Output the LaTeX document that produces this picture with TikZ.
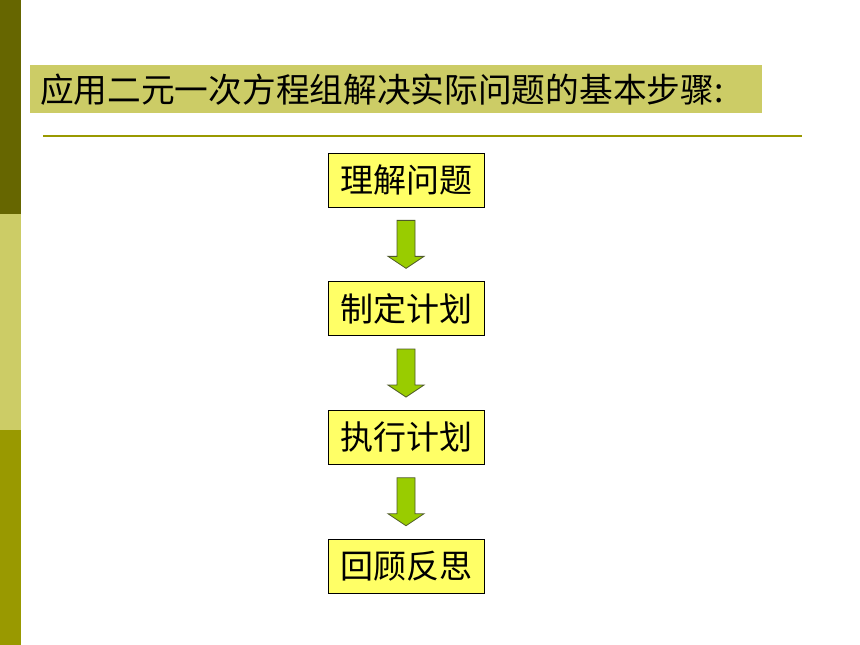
\documentclass[tikz,border=0pt]{standalone}
\usepackage{fontspec}
\newfontfamily\cjk{Noto Sans CJK SC}
\usepackage{tikz}
\usetikzlibrary{positioning,calc}
\definecolor{barDark}{HTML}{666600}
\definecolor{barLight}{HTML}{CCCC66}
\definecolor{barOlive}{HTML}{999900}
\definecolor{boxYellow}{HTML}{FFFF66}
\definecolor{arrowGreen}{HTML}{99CC00}
\definecolor{arrowEdge}{HTML}{4F5A2A}

\begin{document}
\begin{tikzpicture}[
    x=1pt, y=-1pt,
    node distance=128.7pt,
    font=\cjk\fontsize{33}{40}\selectfont,
    stage/.style={
		rectangle,
		draw=black,
		line width=0.8pt,
		fill=boxYellow,
		text centered,
		minimum width=156pt,
		minimum height=54pt,
		inner sep=0pt
	},
	band/.style={
		fill=barLight,
		anchor=north west,
		text width=712pt,
		align=left,
		inner xsep=10pt,
		inner ysep=0pt,
		minimum height=48pt,
		font=\cjk\fontsize{33.7}{40}\selectfont
	},
	flow/.style={
		fill=arrowGreen,
		draw=arrowEdge,
		line width=0.8pt,
		line join=miter
	}
  ]
    % We start by fixing the page and the side bar
  \useasboundingbox (0,0) rectangle (860,645);
  \fill[barDark] (0,0) rectangle (21,214);
  \fill[barLight] (0,214) rectangle (21,430);
  \fill[barOlive] (0,430) rectangle (21,645);

  \node [band] (title) at (30,65) {应用二元一次方程组解决实际问题的基本步骤:};
  \coordinate (ruleL) at (43,136);
  \coordinate (ruleR) at (802,136);
  \draw [barOlive, line width=1.8pt] (ruleL) -- (ruleR);

  \node [stage] (understand) at (406,180) {理解问题};
  \node [stage, below of=understand] (plan) {制定计划};
  \node [stage, below of=plan] (execute) {执行计划};
  \node [stage, below of=execute] (review) {回顾反思};

  \draw [flow] ($(understand.south)!0.5!(plan.north)$) ++(-9,-24) -- ++(18,0) -- ++(0,36) -- ++(9,0) -- ++(-18,12) -- ++(-18,-12) -- ++(9,0) -- cycle;
  \draw [flow] ($(plan.south)!0.5!(execute.north)$) ++(-9,-24) -- ++(18,0) -- ++(0,36) -- ++(9,0) -- ++(-18,12) -- ++(-18,-12) -- ++(9,0) -- cycle;
  \draw [flow] ($(execute.south)!0.5!(review.north)$) ++(-9,-24) -- ++(18,0) -- ++(0,36) -- ++(9,0) -- ++(-18,12) -- ++(-18,-12) -- ++(9,0) -- cycle;

\end{tikzpicture}
\end{document}
